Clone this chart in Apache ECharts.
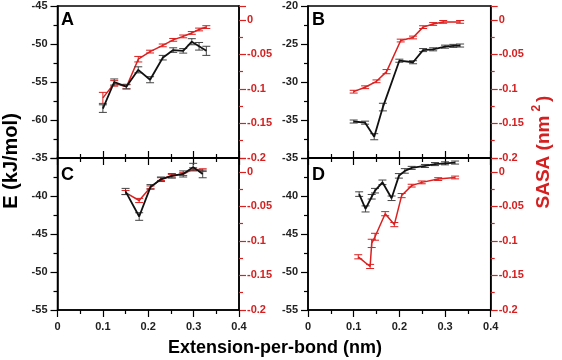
<!DOCTYPE html>
<html><head><meta charset="utf-8">
<script src="https://cdn.jsdelivr.net/npm/echarts@6/dist/echarts.min.js"></script>
<style>html,body{margin:0;padding:0;background:#fff}#c{width:562px;height:360px}</style>
</head><body><div id="c"></div>
<script>
// ---- data ----
const xTicks = [0, 0.1, 0.2, 0.3, 0.4];
// Panel A
const aX = [0.1, 0.125, 0.152, 0.178, 0.204, 0.232, 0.255, 0.277, 0.296, 0.312, 0.328];
const aE = [-58.5, -55.0, -55.6, -53.4, -54.7, -51.8, -50.8, -50.9, -49.7, -50.3, -50.9];
const aEerr = [0.5, 0.4, 0.3, 0.4, 0.4, 0.3, 0.3, 0.3, 0.4, 0.5, 0.6];
const aS = [-0.113, -0.092, -0.097, -0.057, -0.046, -0.037, -0.029, -0.024, -0.019, -0.014, -0.0105];
const aSerr = [0.008, 0.004, 0.003, 0.004, 0.002, 0.002, 0.002, 0.002, 0.002, 0.002, 0.002];
// Panel B
const bEX = [0.1, 0.125, 0.145, 0.164, 0.2, 0.23, 0.252, 0.274, 0.3, 0.318, 0.333];
const bE = [-35.2, -35.35, -37.2, -33.3, -27.2, -27.4, -25.8, -25.7, -25.35, -25.25, -25.2];
const bEerr = [0.2, 0.2, 0.4, 0.5, 0.2, 0.2, 0.2, 0.2, 0.2, 0.2, 0.2];
const bSX = [0.1, 0.125, 0.15, 0.172, 0.203, 0.23, 0.252, 0.274, 0.296, 0.333];
const bS = [-0.104, -0.0976, -0.089, -0.075, -0.030, -0.0256, -0.0106, -0.006, -0.003, -0.003];
const bSerr = [0.002, 0.002, 0.002, 0.003, 0.002, 0.002, 0.002, 0.002, 0.002, 0.002];
// Panel C
const cX = [0.15, 0.18, 0.205, 0.228, 0.252, 0.277, 0.299, 0.32];
const cE = [-39.4, -42.7, -38.8, -37.8, -37.35, -37.1, -36.2, -37.1];
const cEerr = [0.4, 0.5, 0.3, 0.3, 0.3, 0.4, 0.5, 0.5];
const cS = [-0.030, -0.0415, -0.0225, -0.0105, -0.0057, -0.0033, 0.004, 0.0024];
const cSerr = [0.003, 0.003, 0.002, 0.002, 0.002, 0.002, 0.002, 0.002];
// Panel D
const dEX = [0.112, 0.126, 0.1395, 0.1467, 0.163, 0.183, 0.199, 0.212, 0.227, 0.256, 0.278, 0.3, 0.322];
const dE = [-39.75, -41.7, -40.1, -39.3, -38.2, -40.3, -37.35, -36.7, -36.3, -36.05, -35.8, -35.7, -35.6];
const dEerr = [0.3, 0.4, 0.3, 0.3, 0.3, 0.3, 0.3, 0.3, 0.2, 0.2, 0.2, 0.2, 0.2];
const dSX = [0.110, 0.136, 0.1395, 0.1467, 0.169, 0.189, 0.205, 0.227, 0.249, 0.285, 0.322];
const dS = [-0.123, -0.137, -0.1036, -0.094, -0.0606, -0.0764, -0.0344, -0.020, -0.0153, -0.0105, -0.0082];
const dSerr = [0.003, 0.003, 0.006, 0.005, 0.003, 0.003, 0.003, 0.002, 0.002, 0.002, 0.002];
// axis ranges
const eRanges = [[-65, -45], [-40, -20], [-55, -35], [-55, -35]];
const sRange = [-0.2, 0.02];
const panelLabels = ['A', 'B', 'C', 'D'];

// ---- chart ----
const FONT = 'Liberation Sans, Arial, sans-serif';
const RED = '#dc1f1f';
const RED_TXT = '#d42020';
const chart = echarts.init(document.getElementById('c'));

const grids = [
  {left: 57.5, top: 6, width: 181.5, height: 152},
  {left: 308, top: 6, width: 182.7, height: 152},
  {left: 57.5, top: 158, width: 181.5, height: 152},
  {left: 308, top: 158, width: 182.7, height: 152}
];
grids.forEach(g => { g.show = true; g.borderColor = '#000'; g.borderWidth = 1.5; g.containLabel = false; });

const xAxes = [], yAxes = [];
for (let i = 0; i < 4; i++) {
  const bottomRow = i >= 2;
  xAxes.push({
    gridIndex: i, type: 'value', min: xTicks[0], max: xTicks[xTicks.length - 1], interval: 0.1,
    position: 'bottom',
    axisLine: {show: true, onZero: false, lineStyle: {color: '#000', width: 1.5}},
    axisTick: {show: true, inside: !bottomRow, length: 7, lineStyle: {color: '#000', width: 1.2}},
    minorTick: {show: true, splitNumber: 2, length: 4, lineStyle: {color: '#000', width: 1.2}},
    splitLine: {show: false},
    axisLabel: {show: bottomRow, margin: 11, fontFamily: FONT, fontSize: 11, fontWeight: 'bold', color: '#222',
      formatter: v => String(parseFloat(v.toFixed(2)))}
  });
}
// top inner ticks on C and D
for (let i = 2; i < 4; i++) {
  xAxes.push({
    gridIndex: i, type: 'value', min: 0, max: 0.4, interval: 0.1, position: 'top',
    axisLine: {show: true, onZero: false, lineStyle: {color: '#000', width: 1.5}},
    axisTick: {show: true, inside: true, length: 7, lineStyle: {color: '#000', width: 1.2}},
    minorTick: {show: true, splitNumber: 2, length: 4, lineStyle: {color: '#000', width: 1.2}},
    splitLine: {show: false}, axisLabel: {show: false}
  });
}
for (let i = 0; i < 4; i++) {
  const topRow = i < 2;
  yAxes.push({
    gridIndex: i, type: 'value', position: 'left', min: eRanges[i][0], max: eRanges[i][1], interval: 5,
    axisLine: {show: true, onZero: false, lineStyle: {color: '#000', width: 1.5}},
    axisTick: {show: true, length: 7, lineStyle: {color: '#000', width: 1.2}},
    minorTick: {show: true, splitNumber: 2, length: 4, lineStyle: {color: '#000', width: 1.2}},
    splitLine: {show: false},
    axisLabel: {margin: 10, fontFamily: FONT, fontSize: 11, fontWeight: 'bold', color: '#222', showMinLabel: !topRow}
  });
  yAxes.push({
    gridIndex: i, type: 'value', position: 'right', min: sRange[0], max: sRange[1], interval: 0.05,
    axisLine: {show: true, onZero: false, lineStyle: {color: '#000', width: 1.5}},
    axisTick: {show: true, length: 7, lineStyle: {color: RED, width: 1.2}},
    minorTick: {show: true, splitNumber: 2, length: 4, lineStyle: {color: RED, width: 1.2}},
    splitLine: {show: false},
    axisLabel: {margin: 8, fontFamily: FONT, fontSize: 11, fontWeight: 'bold', color: RED_TXT,
      formatter: v => v > 0.001 ? '' : String(parseFloat(v.toFixed(3)))}
  });
}

function pairs(xs, ys, es) { return xs.map((x, k) => es ? [x, ys[k], es[k]] : [x, ys[k]]); }

function lineSeries(i, isS, xs, ys, color, w) {
  return {
    type: 'line', xAxisIndex: i, yAxisIndex: i * 2 + (isS ? 1 : 0), data: pairs(xs, ys),
    showSymbol: false, symbol: 'none', lineStyle: {color: color, width: w}, z: isS ? 3 : 4, silent: true, animation: false
  };
}
function errSeries(i, isS, xs, ys, es, color) {
  return {
    type: 'custom', xAxisIndex: i, yAxisIndex: i * 2 + (isS ? 1 : 0), data: pairs(xs, ys, es), z: isS ? 3 : 4,
    silent: true, animation: false,
    renderItem: function (params, api) {
      const x = api.value(0), y = api.value(1), e = api.value(2);
      const hi = api.coord([x, y + e]), lo = api.coord([x, y - e]);
      const hw = 4;
      const st = {stroke: color, lineWidth: 1};
      return {type: 'group', children: [
        {type: 'line', shape: {x1: hi[0], y1: hi[1], x2: lo[0], y2: lo[1]}, style: st},
        {type: 'line', shape: {x1: hi[0] - hw, y1: hi[1], x2: hi[0] + hw, y2: hi[1]}, style: st},
        {type: 'line', shape: {x1: lo[0] - hw, y1: lo[1], x2: lo[0] + hw, y2: lo[1]}, style: st}
      ]};
    }
  };
}

const BLK = '#111';
const series = [
  lineSeries(0, true, aX, aS, RED, 1.5), errSeries(0, true, aX, aS, aSerr, RED),
  lineSeries(0, false, aX, aE, BLK, 1.8), errSeries(0, false, aX, aE, aEerr, '#444'),
  lineSeries(1, true, bSX, bS, RED, 1.5), errSeries(1, true, bSX, bS, bSerr, RED),
  lineSeries(1, false, bEX, bE, BLK, 1.8), errSeries(1, false, bEX, bE, bEerr, '#444'),
  lineSeries(2, true, cX, cS, RED, 1.5), errSeries(2, true, cX, cS, cSerr, RED),
  lineSeries(2, false, cX, cE, BLK, 1.8), errSeries(2, false, cX, cE, cEerr, '#444'),
  lineSeries(3, true, dSX, dS, RED, 1.5), errSeries(3, true, dSX, dS, dSerr, RED),
  lineSeries(3, false, dEX, dE, BLK, 1.8), errSeries(3, false, dEX, dE, dEerr, '#444')
];

const labelPos = [[61, 11], [312, 11], [61, 166], [312, 166]];
const graphic = panelLabels.map((t, k) => ({
  type: 'text', left: labelPos[k][0], top: labelPos[k][1], z: 10,
  style: {text: t, fontFamily: FONT, fontSize: 18, fontWeight: 'bold', fill: '#000'}
}));
graphic.push({
  type: 'text', x: 11, y: 161, rotation: Math.PI / 2, z: 10,
  style: {text: 'E (kJ/mol)', fontFamily: FONT, fontSize: 20, fontWeight: 'bold', fill: '#000', align: 'center', verticalAlign: 'middle'}
});
graphic.push({
  type: 'text', x: 542, y: 152, rotation: Math.PI / 2, z: 10,
  style: {
    text: '{a|SASA (nm}{s|2}{a|)}', align: 'center', verticalAlign: 'middle',
    rich: {
      a: {fontFamily: FONT, fontSize: 19, fontWeight: 'bold', fill: RED_TXT, lineHeight: 23, verticalAlign: 'bottom'},
      s: {fontFamily: FONT, fontSize: 12, fontWeight: 'bold', fill: RED_TXT, lineHeight: 23, verticalAlign: 'top', padding: [0, 3, 0, 4]}
    }
  }
});
graphic.push({
  type: 'text', x: 275, y: 348, z: 10,
  style: {text: 'Extension-per-bond (nm)', fontFamily: FONT, fontSize: 18, fontWeight: 'bold', fill: '#000', align: 'center', verticalAlign: 'middle'}
});

chart.setOption({
  animation: false,
  backgroundColor: '#fff',
  grid: grids, xAxis: xAxes, yAxis: yAxes, series: series, graphic: graphic
});
</script></body></html>
